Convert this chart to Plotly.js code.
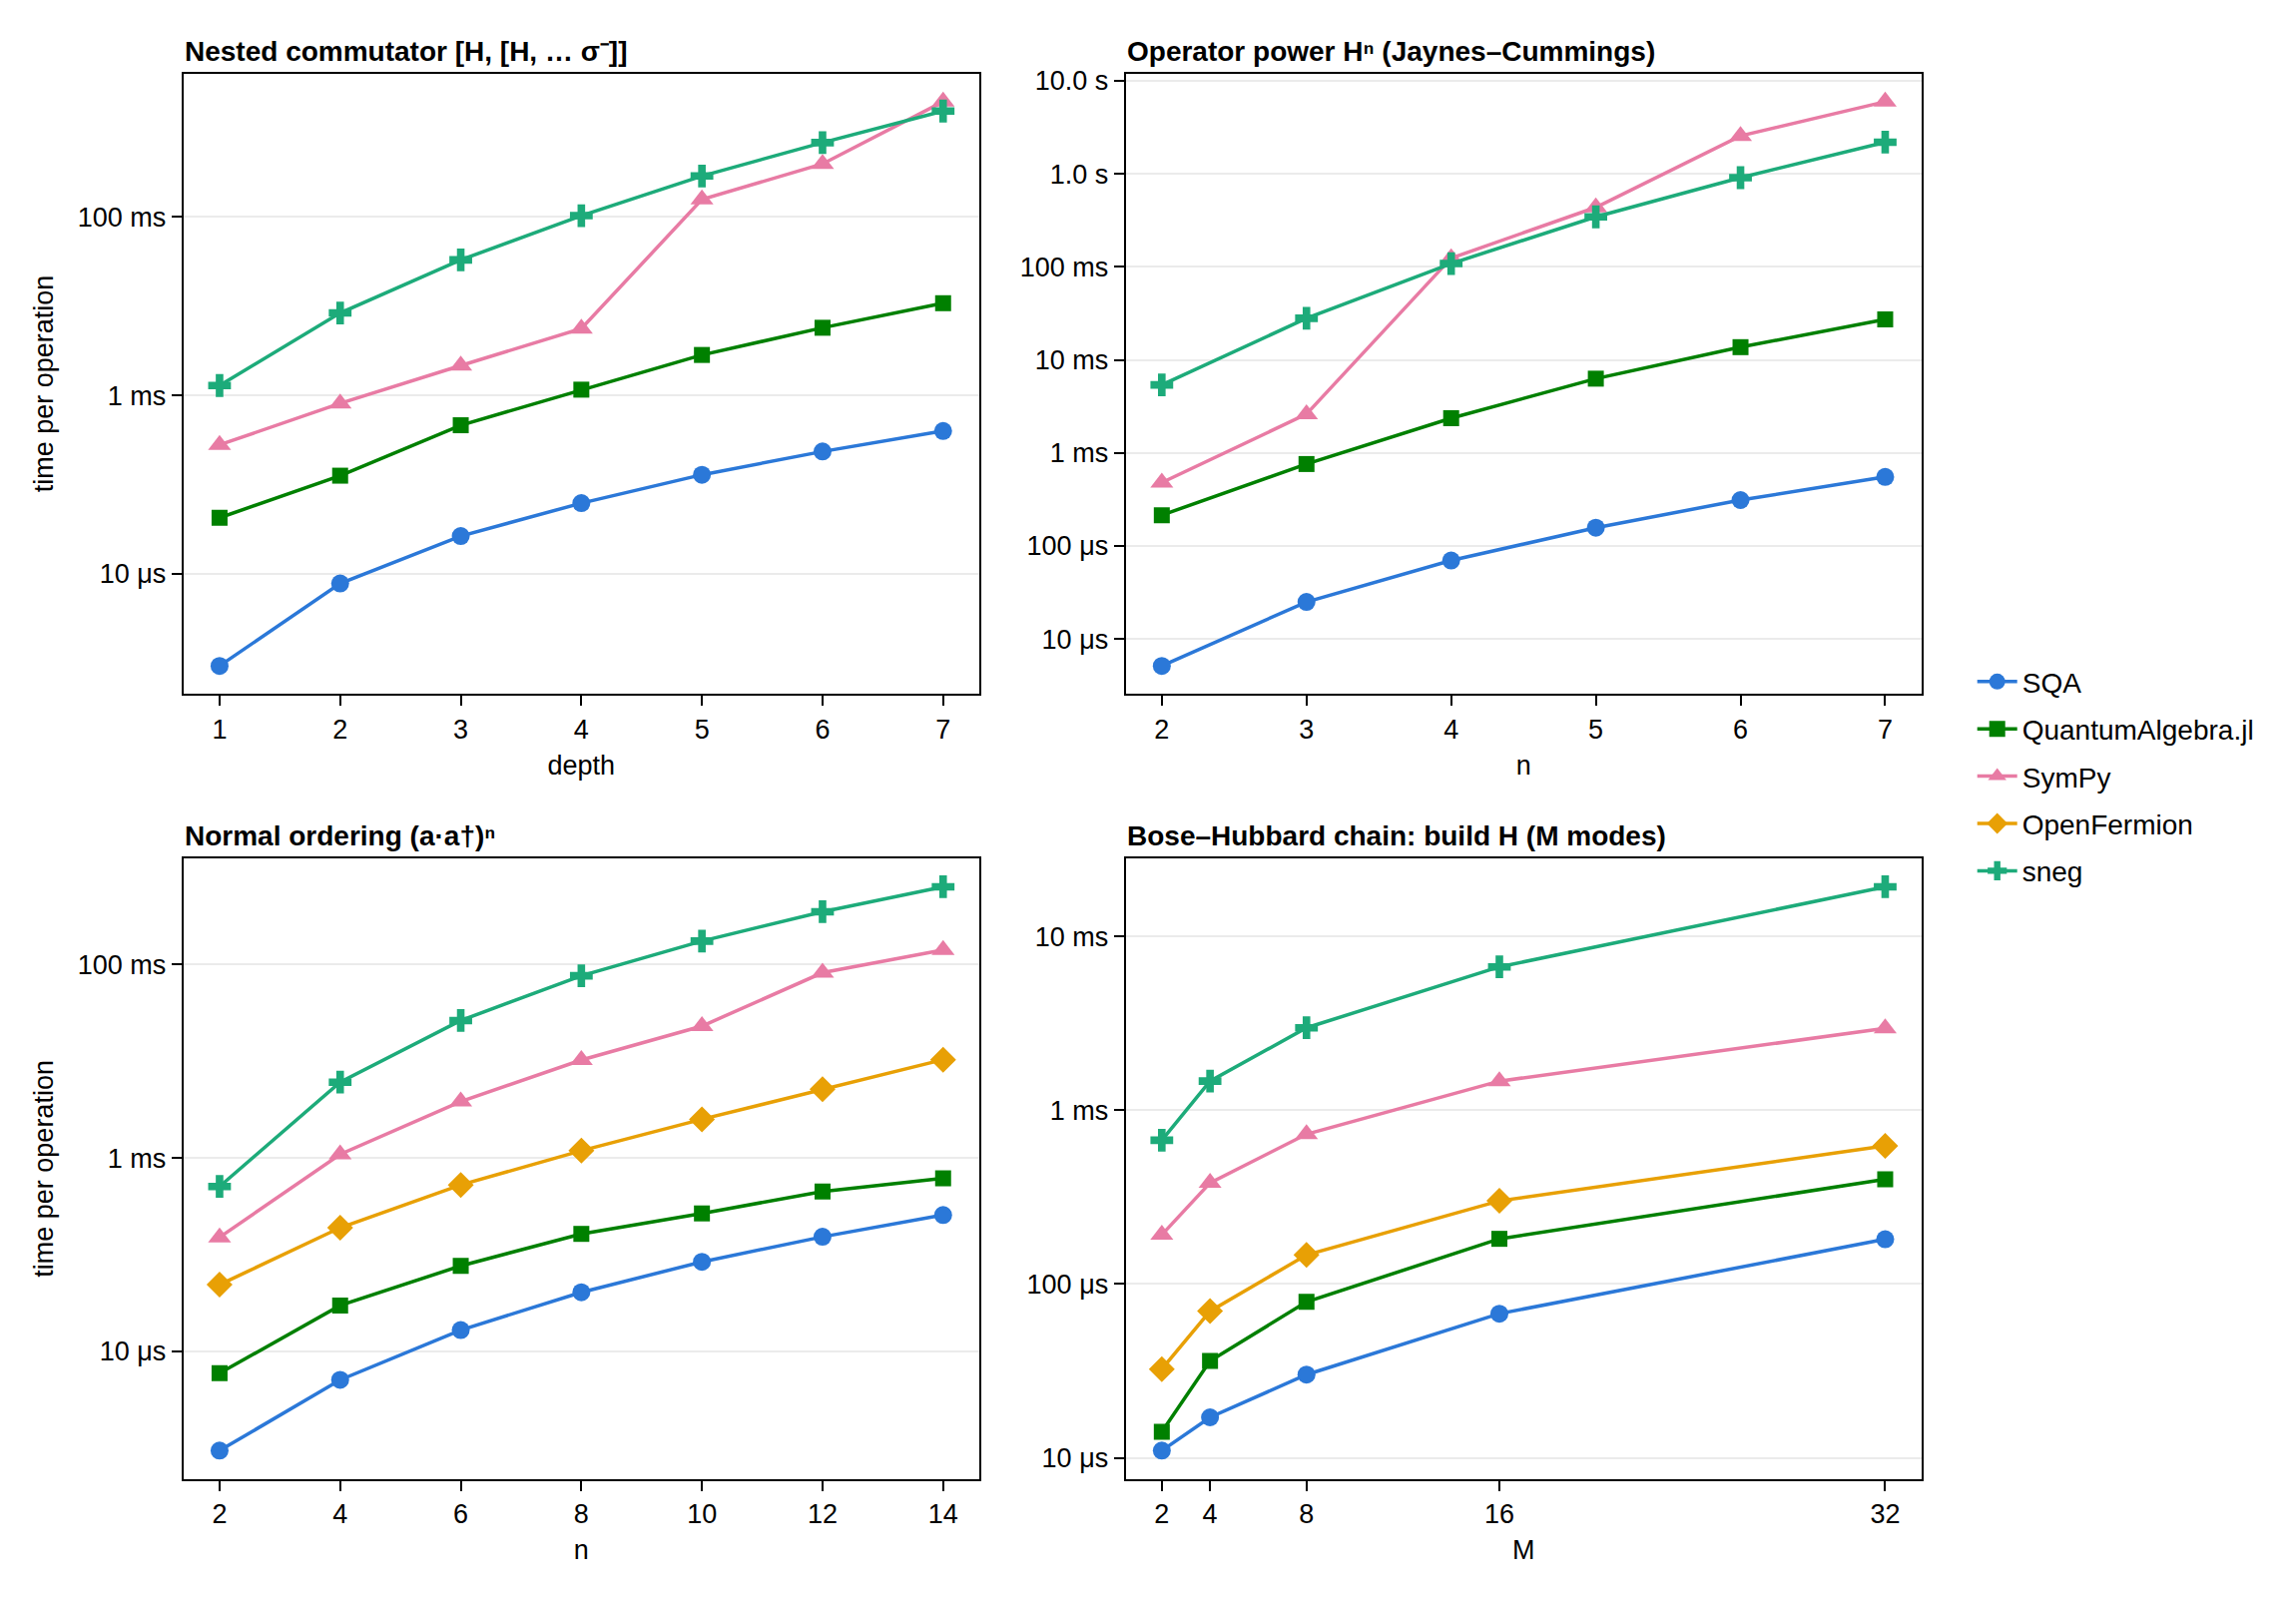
<!DOCTYPE html>
<html>
<head>
<meta charset="utf-8">
<script src="https://cdn.plot.ly/plotly-3.0.1.min.js"></script>
<style>html,body{margin:0;padding:0;background:#fff;}#chart{width:2300px;height:1600px;}</style>
</head>
<body>
<div id="chart"></div>
<script>
// ---------- data (seconds per operation) ----------
const seriesNames = ["SQA", "QuantumAlgebra.jl", "SymPy", "OpenFermion", "sneg"];

const depth = [1, 2, 3, 4, 5, 6, 7];
const nestSQA   = [0.93e-6, 7.8e-6, 26.5e-6, 62e-6, 129e-6, 235e-6, 399e-6];
const nestQA    = [42.5e-6, 126e-6, 463e-6, 1.16e-3, 2.84e-3, 5.73e-3, 10.8e-3];
const nestSymPy = [279e-6, 813e-6, 2.16e-3, 5.6e-3, 157e-3, 393e-3, 1.96];
const nestSneg  = [1.29e-3, 8.4e-3, 33e-3, 103.5e-3, 288e-3, 681e-3, 1.54];

const powN = [2, 3, 4, 5, 6, 7];
const powSQA   = [5.13e-6, 25e-6, 69.7e-6, 157e-6, 311e-6, 552e-6];
const powQA    = [214e-6, 759e-6, 2.36e-3, 6.28e-3, 13.7e-3, 27.2e-3];
const powSymPy = [479e-6, 2.61e-3, 124e-3, 436e-3, 2.56, 5.97];
const powSneg  = [5.38e-3, 28e-3, 108.6e-3, 345e-3, 910e-3, 2.19];

const normN = [2, 4, 6, 8, 10, 12, 14];
const normSQA   = [0.94e-6, 5.07e-6, 16.6e-6, 40.8e-6, 84.3e-6, 153e-6, 257e-6];
const normQA    = [5.94e-6, 29.8e-6, 76.6e-6, 164e-6, 267e-6, 450e-6, 616e-6];
const normOF    = [48.9e-6, 190e-6, 526e-6, 1.19e-3, 2.51e-3, 5.14e-3, 10.4e-3];
const normSymPy = [151e-6, 1.09e-3, 3.84e-3, 10.3e-3, 23.1e-3, 82.4e-3, 142e-3];
const normSneg  = [507e-6, 6.08e-3, 26.4e-3, 76.6e-3, 175e-3, 352e-3, 638e-3];

const bhM = [2, 4, 8, 16, 32];
const bhSQA   = [11.0e-6, 17.1e-6, 30.1e-6, 67.5e-6, 181e-6];
const bhQA    = [14.1e-6, 36.1e-6, 78.9e-6, 182e-6, 400e-6];
const bhOF    = [32.4e-6, 69.8e-6, 147e-6, 301e-6, 624e-6];
const bhSymPy = [192e-6, 382e-6, 728e-6, 1.47e-3, 2.96e-3];
const bhSneg  = [672e-6, 1.47e-3, 2.98e-3, 6.68e-3, 19.3e-3];

const panelTitles = [
  "Nested commutator [H, [H, … σ⁻]]",
  "Operator power Hⁿ (Jaynes–Cummings)",
  "Normal ordering (a·a†)ⁿ",
  "Bose–Hubbard chain: build H (M modes)"
];
const xTitles = ["depth", "n", "n", "M"];
const yTitle = "time per operation";

const tickVals2 = [1e-5, 1e-3, 1e-1];
const tickText2 = ["10 μs", "1 ms", "100 ms"];
const tickValsPow = [1e-5, 1e-4, 1e-3, 1e-2, 1e-1, 1, 10];
const tickTextPow = ["10 μs", "100 μs", "1 ms", "10 ms", "100 ms", "1.0 s", "10.0 s"];
const tickValsBH = [1e-5, 1e-4, 1e-3, 1e-2];
const tickTextBH = ["10 μs", "100 μs", "1 ms", "10 ms"];

// ---------- styles ----------
const styles = {
  "SQA":               {color: "#2b78d8", symbol: "circle",      size: 18},
  "QuantumAlgebra.jl": {color: "#008000", symbol: "square",      size: 16},
  "SymPy":             {color: "#e87ba4", symbol: "triangle-up", size: 20},
  "OpenFermion":       {color: "#e8a005", symbol: "diamond",     size: 20},
  "sneg":              {color: "#1dab7a", symbol: "cross",       size: 19}
};

const panels = [
  {x: depth, xt: depth, series: {"SQA": nestSQA, "QuantumAlgebra.jl": nestQA, "SymPy": nestSymPy, "sneg": nestSneg}, tv: tickVals2, tt: tickText2},
  {x: powN, xt: powN, series: {"SQA": powSQA, "QuantumAlgebra.jl": powQA, "SymPy": powSymPy, "sneg": powSneg}, tv: tickValsPow, tt: tickTextPow},
  {x: normN, xt: normN, series: {"SQA": normSQA, "QuantumAlgebra.jl": normQA, "SymPy": normSymPy, "OpenFermion": normOF, "sneg": normSneg}, tv: tickVals2, tt: tickText2},
  {x: bhM, xt: bhM, series: {"SQA": bhSQA, "QuantumAlgebra.jl": bhQA, "SymPy": bhSymPy, "OpenFermion": bhOF, "sneg": bhSneg}, tv: tickValsBH, tt: tickTextBH}
];

const W = 2300, H = 1600;
const boxes = [
  {l: 183.7, r: 981, t: 73.6, b: 695.4},
  {l: 1127.6, r: 1924.7, t: 73.6, b: 695.4},
  {l: 183.7, r: 981, t: 860.2, b: 1481.6},
  {l: 1127.6, r: 1924.7, t: 860.2, b: 1481.6}
];

const FONT = "'Liberation Sans', Arial, Helvetica, sans-serif";
const traces = [];
const shown = {};
const layout = {
  width: W, height: H,
  margin: {l: 0, r: 0, t: 0, b: 0},
  paper_bgcolor: "#fff", plot_bgcolor: "#fff",
  font: {family: FONT, size: 27, color: "#000"},
  showlegend: true,
  legend: {x: 0.859, y: 0.514, xanchor: "left", yanchor: "middle", font: {size: 28, family: FONT},
           traceorder: "grouped", tracegroupgap: 8, itemwidth: 40, bgcolor: "rgba(0,0,0,0)"},
  annotations: []
};

panels.forEach((p, i) => {
  const k = i + 1;
  const xa = "x" + (k === 1 ? "" : k), ya = "y" + (k === 1 ? "" : k);
  const bx = boxes[i];
  let all = [];
  seriesNames.forEach(name => {
    if (!p.series[name]) return;
    const st = styles[name];
    all = all.concat(p.series[name]);
    traces.push({
      type: "scatter", mode: "lines+markers",
      x: p.x, y: p.series[name], xaxis: xa, yaxis: ya,
      name: name, legendgroup: name, legendrank: seriesNames.indexOf(name) + 1,
      showlegend: !shown[name],
      line: {color: st.color, width: 3.5},
      marker: {color: st.color, symbol: st.symbol, size: st.size, line: {width: 0}}
    });
    shown[name] = true;
  });
  const lmin = Math.log10(Math.min(...all)), lmax = Math.log10(Math.max(...all));
  const padY = 0.05 * (lmax - lmin);
  const xmin = Math.min(...p.x), xmax = Math.max(...p.x);
  const padX = 0.05 * (xmax - xmin);
  layout["xaxis" + (k === 1 ? "" : k)] = {
    domain: [bx.l / W, bx.r / W], anchor: ya,
    range: [xmin - padX, xmax + padX],
    tickmode: "array", tickvals: p.xt, ticktext: p.xt.map(String),
    ticks: "outside", ticklen: 10, tickwidth: 2, tickcolor: "#000",
    showline: true, linewidth: 2, linecolor: "#000", mirror: true,
    showgrid: false, zeroline: false,
    tickfont: {size: 27, family: FONT, color: "#000"},
    title: {text: xTitles[i], font: {size: 27, family: FONT, color: "#000"}, standoff: 12}
  };
  layout["yaxis" + (k === 1 ? "" : k)] = {
    domain: [1 - bx.b / H, 1 - bx.t / H], anchor: xa, type: "log",
    range: [lmin - padY, lmax + padY],
    tickmode: "array", tickvals: p.tv, ticktext: p.tt,
    ticks: "outside", ticklen: 10, tickwidth: 2, tickcolor: "#000",
    showline: true, linewidth: 2, linecolor: "#000", mirror: true,
    showgrid: true, gridcolor: "#ebebeb", gridwidth: 2, zeroline: false,
    tickfont: {size: 27, family: FONT, color: "#000"},
    title: (i % 2 === 0) ? {text: yTitle, font: {size: 27, family: FONT, color: "#000"}, standoff: 16} : {text: ""}
  };
  layout.annotations.push({
    xref: "paper", yref: "paper",
    x: bx.l / W, y: 1 - (bx.t - 6) / H, xanchor: "left", yanchor: "bottom",
    text: "<b>" + panelTitles[i] + "</b>", showarrow: false,
    font: {size: 28, family: FONT, color: "#000"}, borderpad: 0
  });
});

Plotly.newPlot("chart", traces, layout, {staticPlot: true, displayModeBar: false});
</script>
</body>
</html>
